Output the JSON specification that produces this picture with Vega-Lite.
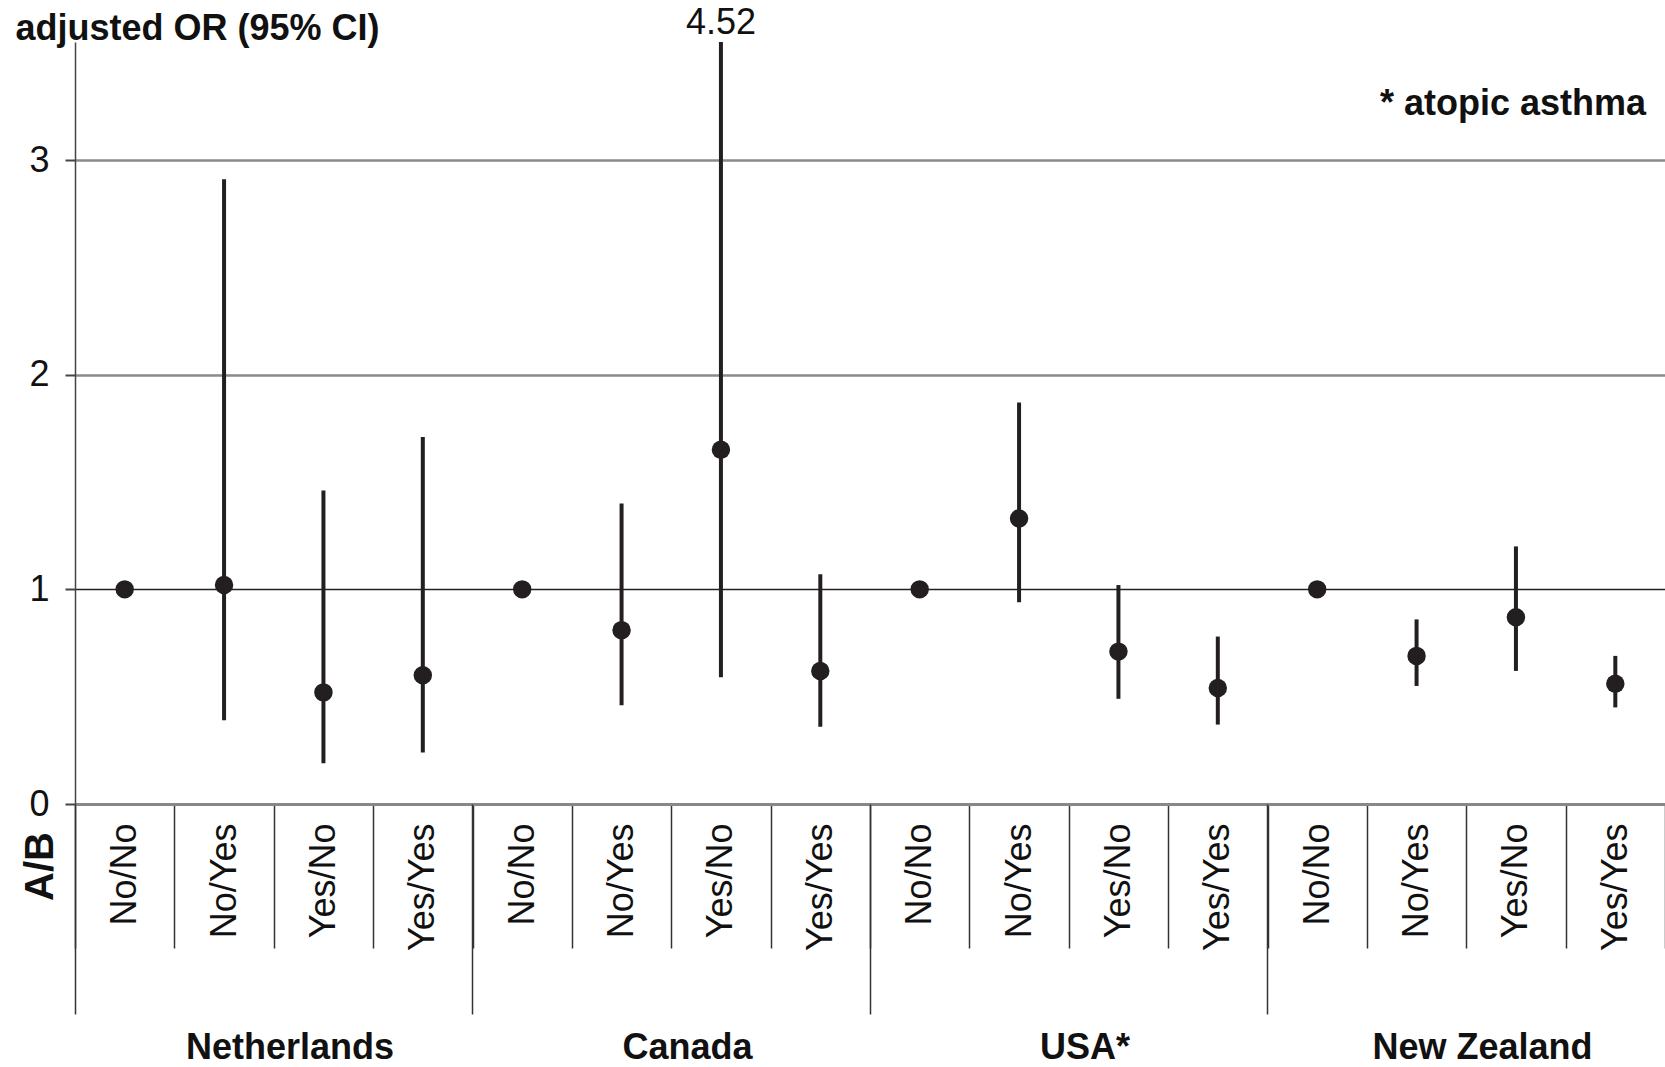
{
  "$schema": "https://vega.github.io/schema/vega-lite/v6.json",
  "autosize": "none",
  "width": 1590,
  "height": 762,
  "padding": {"left": 75, "top": 42, "right": 0, "bottom": 263},
  "background": "white",
  "config": {"view": {"stroke": null}, "font": "Liberation Sans"},
  "datasets": {
    "main": [
      {"key": "Netherlands|No/No", "or": 1.0},
      {"key": "Netherlands|No/Yes", "or": 1.02, "lo": 0.39, "hi": 2.91},
      {"key": "Netherlands|Yes/No", "or": 0.52, "lo": 0.19, "hi": 1.46},
      {"key": "Netherlands|Yes/Yes", "or": 0.60, "lo": 0.24, "hi": 1.71},
      {"key": "Canada|No/No", "or": 1.0},
      {"key": "Canada|No/Yes", "or": 0.81, "lo": 0.46, "hi": 1.40},
      {"key": "Canada|Yes/No", "or": 1.65, "lo": 0.59, "hi": 4.52},
      {"key": "Canada|Yes/Yes", "or": 0.62, "lo": 0.36, "hi": 1.07},
      {"key": "USA*|No/No", "or": 1.0},
      {"key": "USA*|No/Yes", "or": 1.33, "lo": 0.94, "hi": 1.87},
      {"key": "USA*|Yes/No", "or": 0.71, "lo": 0.49, "hi": 1.02},
      {"key": "USA*|Yes/Yes", "or": 0.54, "lo": 0.37, "hi": 0.78},
      {"key": "New Zealand|No/No", "or": 1.0},
      {"key": "New Zealand|No/Yes", "or": 0.69, "lo": 0.55, "hi": 0.86},
      {"key": "New Zealand|Yes/No", "or": 0.87, "lo": 0.62, "hi": 1.20},
      {"key": "New Zealand|Yes/Yes", "or": 0.56, "lo": 0.45, "hi": 0.69}
    ]
  },
  "data": {"name": "main"},
  "layer": [
    {
      "mark": {"type": "point", "filled": true, "size": 340, "color": "#231f20", "opacity": 1},
      "encoding": {
        "x": {"field": "key", "type": "nominal", "sort": null,
          "scale": {"paddingInner": 0, "paddingOuter": 0},
          "axis": {"orient": "bottom", "title": "A/B", "titleAngle": 270, "titleFontSize": 40, "titleFontWeight": "bold", "titleX": -35, "titleY": 62, "titleAlign": "center", "titleBaseline": "middle", "titleColor": "#111",
            "labelExpr": "split(datum.label, '|')[1]", "labelAngle": -90, "labelFontSize": 36, "labelColor": "#111", "labelPadding": -125,
            "tickBand": "extent", "tickSize": 144, "tickColor": "#333", "tickWidth": 1.5,
            "domainColor": "#888", "domainWidth": 3, "grid": false}},
        "y": {"field": "or", "type": "quantitative", "title": "adjusted OR (95% CI)",
          "scale": {"domain": [0, 3.55], "clamp": true, "nice": false, "zero": true},
          "axis": {"titleAngle": 0, "titleAlign": "left", "titleBaseline": "alphabetic", "titleX": -60, "titleY": -3, "titleFontSize": 36, "titleFontWeight": "bold", "titleColor": "#111",
            "values": [0, 1, 2, 3], "format": "d", "labelFontSize": 36, "labelColor": "#111", "labelPadding": 16,
            "tickSize": 10, "tickColor": "#444", "tickWidth": 2, "domainColor": "#444", "domainWidth": 1.5,
            "grid": true,
            "gridColor": {"condition": {"test": "datum.value === 1", "value": "#222"}, "value": "#8a8a8a"},
            "gridWidth": {"condition": {"test": "datum.value === 1", "value": 1.5}, "value": 2.5}}}
      }
    },
    {
      "mark": {"type": "rule", "strokeWidth": 4, "color": "#231f20"},
      "encoding": {
        "x": {"field": "key", "type": "nominal", "sort": null,
          "axis": {"orient": "bottom", "title": null, "values": ["Netherlands|No/No", "Canada|No/No", "USA*|No/No", "New Zealand|No/No"], "bandPosition": 0, "tickSize": 210, "tickColor": "#333", "tickWidth": 1.5, "labels": false, "domain": false, "grid": false}},
        "y": {"field": "lo", "type": "quantitative"},
        "y2": {"field": "hi"}
      }
    },
    {
      "transform": [{"filter": "datum.hi > 3.55"}],
      "mark": {"type": "text", "fontSize": 36, "color": "#111", "baseline": "alphabetic", "dy": -8},
      "encoding": {
        "x": {"field": "key", "type": "nominal", "sort": null,
          "axis": {"orient": "bottom", "title": null, "values": ["Netherlands|No/Yes", "Canada|No/Yes", "USA*|No/Yes", "New Zealand|No/Yes"], "ticks": false, "domain": false, "grid": false,
            "labelExpr": "split(datum.label, '|')[0]", "labelFontSize": 36, "labelFontWeight": "bold", "labelAngle": 0, "labelPadding": 226, "labelBaseline": "top", "labelColor": "#111", "labelOffset": 66, "labelLimit": 500}},
        "y": {"field": "hi", "type": "quantitative"},
        "text": {"field": "hi", "type": "quantitative", "format": ".2f"}
      }
    },
    {
      "data": {"values": [{"key": "New Zealand|Yes/Yes", "note": "* atopic asthma", "ny": 3.21}]},
      "mark": {"type": "text", "fontSize": 36, "fontWeight": "bold", "color": "#111", "align": "right", "baseline": "alphabetic", "dx": -19},
      "encoding": {
        "x": {"field": "key", "type": "nominal", "sort": null, "bandPosition": 1, "axis": null},
        "y": {"field": "ny", "type": "quantitative"},
        "text": {"field": "note"}
      }
    }
  ],
  "resolve": {"axis": {"x": "independent"}}
}
